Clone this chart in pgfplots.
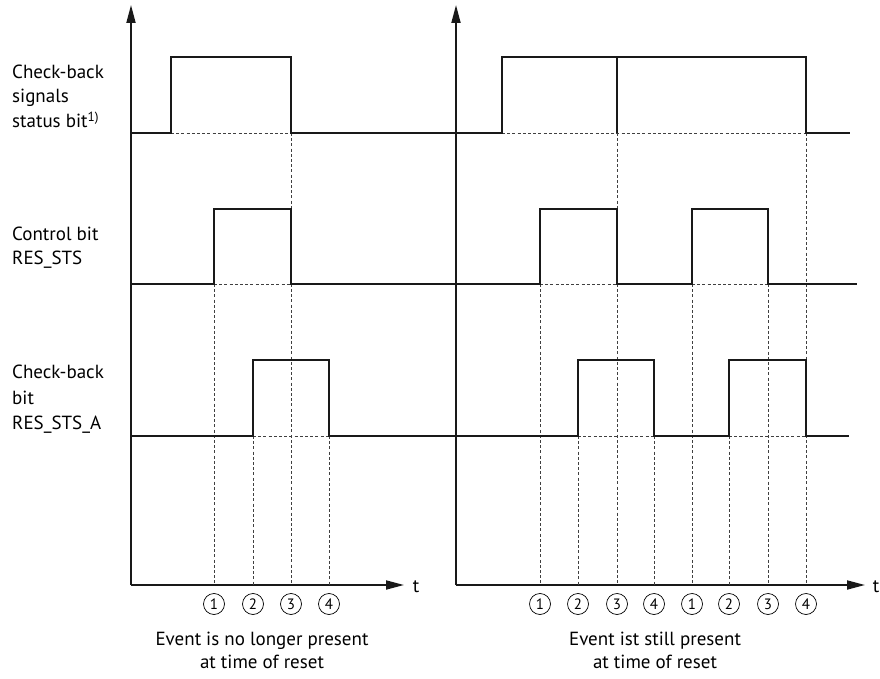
\documentclass[border=0pt]{standalone}
\usepackage{pgfplots}
\pgfplotsset{compat=1.18}
\usepackage{fontspec}
\setmainfont{PT Sans}
\usetikzlibrary{arrows.meta}
\begin{document}
\begin{tikzpicture}[x=1pt,y=1pt]
\useasboundingbox (0,0) rectangle (880,678);
\pgfplotsset{
  sig/.style={line width=2.8pt, black!90, line join=miter, line cap=butt, mark=none},
  dsh/.style={line width=0.9pt, black!75, dash pattern=on 3pt off 2.2pt, mark=none},
  tdax/.style={x=1pt, y=1pt, anchor=south west, clip=false, enlargelimits=false,
    axis lines=left, ymin=93, ymax=673, ytick=\empty,
    axis line style={line width=1.8pt, black!90, -{Triangle[length=18pt,width=9pt]}},
    major tick length=0pt,
    xticklabel style={draw, circle, line width=0.7pt, minimum size=21pt, inner sep=0pt,
      font=\fontsize{15}{15}\selectfont, anchor=center, yshift=-19pt}},
}
\begin{axis}[tdax, at={(131pt,93pt)}, xmin=131, xmax=404,
  xtick={214,253,291,329}, xticklabels={1,2,3,4}]
% dashed guides
\addplot[dsh] coordinates {(171,545) (291,545)};
\addplot[dsh] coordinates {(214,394) (291,394)};
\addplot[dsh] coordinates {(253,242) (329,242)};
\addplot[dsh] coordinates {(214,394) (214,93)};
\addplot[dsh] coordinates {(253,242) (253,93)};
\addplot[dsh] coordinates {(291,545) (291,93)};
\addplot[dsh] coordinates {(329,242) (329,93)};
% signals
\addplot[sig] coordinates {(131,545) (171,545) (171,621) (291,621) (291,545) (456,545)};
\addplot[sig] coordinates {(131,394) (214,394) (214,469) (291,469) (291,394) (456,394)};
\addplot[sig] coordinates {(131,242) (253,242) (253,318) (329,318) (329,242) (456,242)};
\end{axis}
\begin{axis}[tdax, at={(456pt,93pt)}, xmin=456, xmax=865,
  xtick={540,578,617,654,692,729,768,806}, xticklabels={1,2,3,4,1,2,3,4}]
% dashed guides
\addplot[dsh] coordinates {(502,545) (806,545)};
\addplot[dsh] coordinates {(540,394) (617,394)};
\addplot[dsh] coordinates {(692,394) (768,394)};
\addplot[dsh] coordinates {(578,242) (654,242)};
\addplot[dsh] coordinates {(729,242) (806,242)};
\addplot[dsh] coordinates {(540,394) (540,93)};
\addplot[dsh] coordinates {(578,242) (578,93)};
\addplot[dsh] coordinates {(617,545) (617,93)};
\addplot[dsh] coordinates {(654,242) (654,93)};
\addplot[dsh] coordinates {(692,394) (692,93)};
\addplot[dsh] coordinates {(729,242) (729,93)};
\addplot[dsh] coordinates {(768,394) (768,93)};
\addplot[dsh] coordinates {(806,545) (806,93)};
% signals
\addplot[sig] coordinates {(456,545) (502,545) (502,621) (806,621) (806,545) (850,545)};
\addplot[sig] coordinates {(617,545) (617,621)};
\addplot[sig] coordinates {(456,394) (540,394) (540,469) (617,469) (617,394) (692,394) (692,469) (768,469) (768,394) (857,394)};
\addplot[sig] coordinates {(456,242) (578,242) (578,318) (654,318) (654,242) (729,242) (729,318) (806,318) (806,242) (849,242)};
\end{axis}
\begin{scope}[every node/.style={inner sep=0pt, font=\fontsize{19}{23}\selectfont}]
\node[anchor=base west] at (12,599) {Check-back};
\node[anchor=base west] at (12,575) {signals};
\node[anchor=base west] at (12,550) {status bit\textsuperscript{1)}};
\node[anchor=base west] at (12,437) {Control bit};
\node[anchor=base west] at (12,413) {RES\_STS};
\node[anchor=base west] at (12,299) {Check-back};
\node[anchor=base west] at (12,274) {bit};
\node[anchor=base west] at (12,249) {RES\_STS\_A};
\node[anchor=base] at (416,86) {t};
\node[anchor=base] at (876,86) {t};
\node[anchor=base] at (262,33) {Event is no longer present};
\node[anchor=base] at (262,10) {at time of reset};
\node[anchor=base] at (655,33) {Event ist still present};
\node[anchor=base] at (655,10) {at time of reset};
\end{scope}
\end{tikzpicture}
\end{document}
